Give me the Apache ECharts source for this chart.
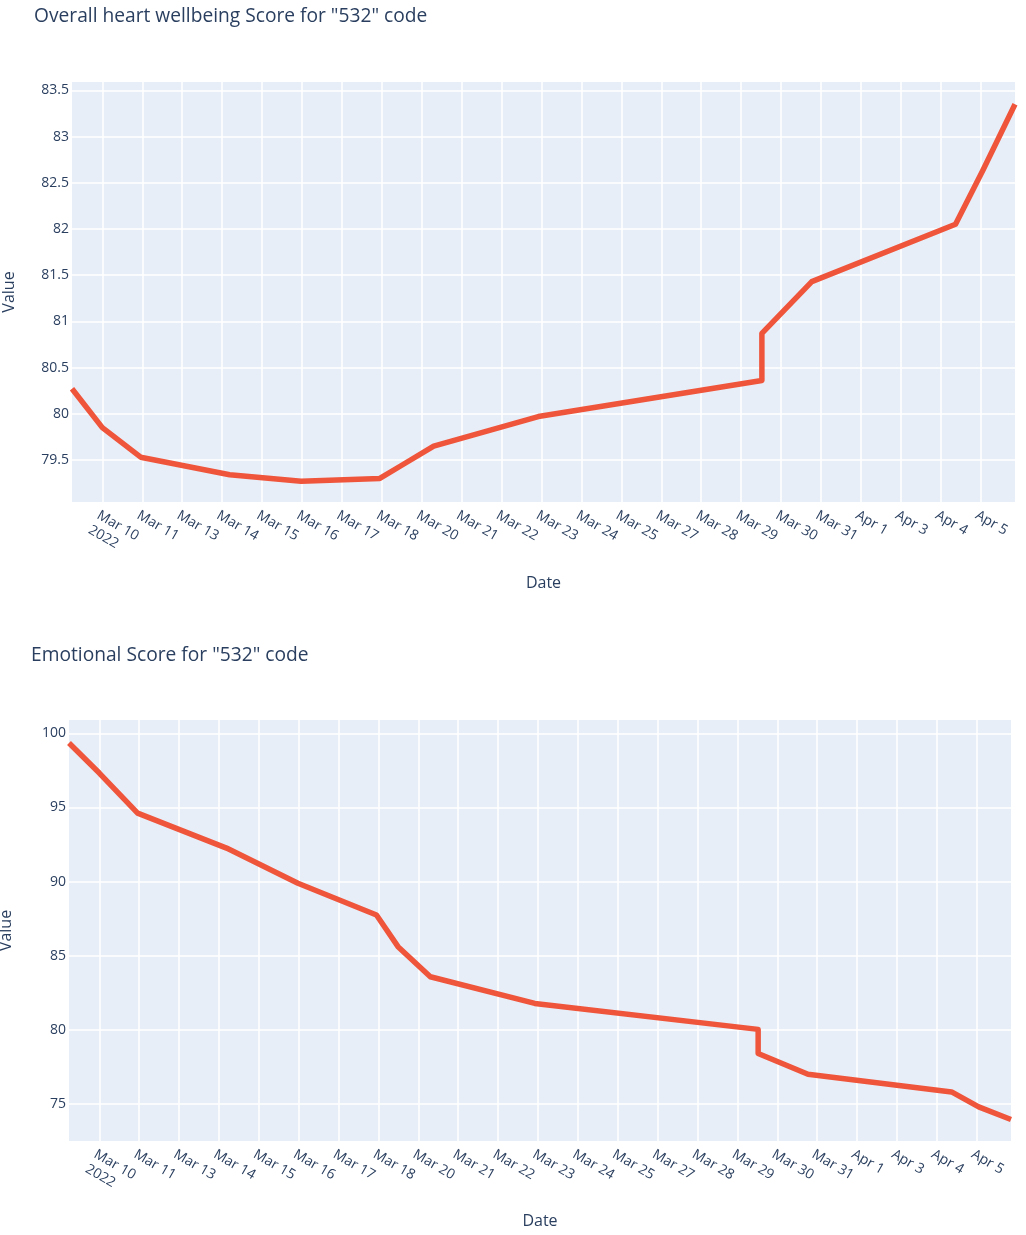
<!DOCTYPE html>
<html>
<head>
<meta charset="utf-8">
<script src="https://cdn.jsdelivr.net/npm/echarts@6/dist/echarts.min.js"></script>
<style>
html,body{margin:0;padding:0;background:#fff;}
#chart{width:1026px;height:1235px;}
</style>
</head>
<body>
<div id="chart"></div>
<script>
// Tick labels of the date axis (Saturdays are skipped on the axis)
const tickLabels = ["Mar 10\n2022","Mar 11","Mar 13","Mar 14","Mar 15","Mar 16","Mar 17","Mar 18","Mar 20","Mar 21","Mar 22","Mar 23","Mar 24","Mar 25","Mar 27","Mar 28","Mar 29","Mar 30","Mar 31","Apr 1","Apr 3","Apr 4","Apr 5"];
// Sample positions along the date axis, in tick units (0 = Mar 10)
const datePos = [-0.76, 0.0, 0.96, 3.19, 4.98, 6.95, 7.49, 8.30, 10.92, 16.52, 16.52, 17.77, 21.37, 22.05, 22.86];
// Overall heart wellbeing score
const wellbeing = [80.27, 79.85, 79.53, 79.34, 79.27, 79.30, 79.44, 79.65, 79.97, 80.36, 80.87, 81.43, 82.05, 82.63, 83.35];
// Emotional score
const emotional = [99.35, 97.32, 94.62, 92.26, 89.89, 87.75, 85.61, 83.58, 81.78, 80.03, 78.40, 77.00, 75.81, 74.80, 73.95];
// Y tick values
const yTicksTop = [79.5, 80, 80.5, 81, 81.5, 82, 82.5, 83, 83.5];
const yTicksBottom = [75, 80, 85, 90, 95, 100];

const FONT = '"Open Sans", "Liberation Sans", Arial, sans-serif';
const TXT = '#2a3f5f';
const tickIdx = tickLabels.map((_, i) => i);

function xAxis(gridIndex, gap) {
  return {
    type: 'value', gridIndex,
    min: 'dataMin', max: 'dataMax',
    name: 'Date', nameLocation: 'middle', nameGap: gap,
    nameTextStyle: { color: TXT, fontSize: 16, fontFamily: FONT },
    axisLine: { show: false },
    axisTick: { show: false, customValues: tickIdx },
    axisLabel: {
      customValues: tickIdx,
      formatter: v => tickLabels[Math.round(v)],
      rotate: -30, margin: 5, verticalAlign: 'top', align: 'left',
      showMinLabel: true, showMaxLabel: true, hideOverlap: false,
      color: TXT, fontSize: 14, fontFamily: FONT, lineHeight: 17
    },
    splitLine: { show: true, lineStyle: { color: '#ffffff', width: 1.5 } }
  };
}
function yAxis(gridIndex, min, max, ticks) {
  return {
    type: 'value', gridIndex, min, max,
    name: 'Value', nameLocation: 'middle', nameGap: 55,
    nameTextStyle: { color: TXT, fontSize: 16, fontFamily: FONT },
    axisLine: { show: false },
    axisTick: { show: false, customValues: ticks },
    axisLabel: {
      customValues: ticks,
      formatter: v => String(v),
      margin: 3, color: TXT, fontSize: 14, fontFamily: FONT,
      showMinLabel: true, showMaxLabel: true
    },
    splitLine: { show: true, lineStyle: { color: '#ffffff', width: 1.5 } }
  };
}

const chart = echarts.init(document.getElementById('chart'), null, { renderer: 'canvas' });
chart.setOption({
  backgroundColor: '#ffffff',
  animation: false,
  title: [
    { text: 'Overall heart wellbeing Score for "532" code', left: 29, top: 2,
      textStyle: { color: TXT, fontSize: 19.2, fontWeight: 'normal', fontFamily: FONT } },
    { text: 'Emotional Score for "532" code', left: 26, top: 641,
      textStyle: { color: TXT, fontSize: 19.2, fontWeight: 'normal', fontFamily: FONT } }
  ],
  grid: [
    { left: 72, right: 11, top: 82, height: 420, backgroundColor: '#E8EEF8', show: true, borderWidth: 0,
      containLabel: false, outerBoundsMode: 'none' },
    { left: 69, right: 15, top: 720, height: 421, backgroundColor: '#E8EEF8', show: true, borderWidth: 0,
      containLabel: false, outerBoundsMode: 'none' }
  ],
  xAxis: [xAxis(0, 73), xAxis(1, 72)],
  yAxis: [yAxis(0, 79.045, 83.59, yTicksTop), yAxis(1, 72.5, 100.9, yTicksBottom)],
  series: [
    { type: 'line', xAxisIndex: 0, yAxisIndex: 0, showSymbol: false, symbol: 'none',
      data: datePos.map((x, i) => [x, wellbeing[i]]),
      lineStyle: { color: '#EF553B', width: 5.5, join: 'round' } },
    { type: 'line', xAxisIndex: 1, yAxisIndex: 1, showSymbol: false, symbol: 'none',
      data: datePos.map((x, i) => [x, emotional[i]]),
      lineStyle: { color: '#EF553B', width: 5.5, join: 'round' } }
  ]
});
</script>
</body>
</html>
